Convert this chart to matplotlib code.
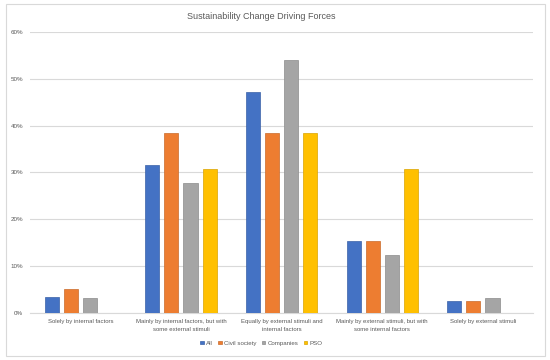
import matplotlib
matplotlib.use("Agg")
import matplotlib.pyplot as plt
import numpy as np
from matplotlib.patches import Rectangle
from matplotlib.ticker import PercentFormatter

categories = ["Solely by internal factors",
              "Mainly by internal factors, but with\nsome external stimuli",
              "Equally by external stimuli and\ninternal factors",
              "Mainly by external stimuli, but with\nsome internal factors",
              "Solely by external stimuli"]
series_names = ["All", "Civil society", "Companies", "PSO"]
all_vals = [3.5, 31.6, 47.1, 15.4, 2.5]
civil_vals = [5.1, 38.5, 38.5, 15.4, 2.5]
companies_vals = [3.1, 27.7, 54.0, 12.4, 3.1]
pso_vals = [0.0, 30.8, 38.5, 30.8, 0.0]
colors = ["#4472C4", "#ED7D31", "#A5A5A5", "#FFC000"]
yticks = [0, 10, 20, 30, 40, 50, 60]

plt.rcParams['font.family'] = ['Liberation Sans', 'DejaVu Sans']

fig = plt.figure(figsize=(5.5, 3.6), dpi=100)
ax = fig.add_axes([0.0545, 0.1306, 0.915, 0.7806])

x = np.arange(len(categories))
width = 0.14
pitch = 0.19
for i, (vals, name) in enumerate(zip([all_vals, civil_vals, companies_vals, pso_vals], series_names)):
    offs = (i - 1.5) * pitch
    ax.bar(x + offs, vals, width, color=colors[i], label=name, zorder=3,
           edgecolor=[c * 0.85 for c in matplotlib.colors.to_rgb(colors[i])], linewidth=0.5)

ax.set_xlim(-0.5, 4.5)
ax.set_ylim(0, 60)
ax.set_yticks(yticks)
ax.yaxis.set_major_formatter(PercentFormatter(decimals=0))
ax.grid(axis='y', color='#D9D9D9', linewidth=0.8, zorder=0)
for s in ['top', 'right', 'left']:
    ax.spines[s].set_visible(False)
ax.spines['bottom'].set_color('#D9D9D9')
ax.tick_params(axis='y', length=0, labelsize=4.5, labelcolor='#595959', pad=5)
ax.tick_params(axis='x', length=0, labelsize=4.3, labelcolor='#595959', pad=4.5)
ax.set_xticks(x)
ax.set_xticklabels(categories, linespacing=1.7)

fig.text(0.475, 0.955, "Sustainability Change Driving Forces", ha='center', va='center',
         fontsize=6.5, color='#595959')

leg = fig.legend(loc='center', bbox_to_anchor=(0.475, 0.047), ncol=4, frameon=False,
                 fontsize=4.4, handlelength=0.6, handleheight=0.6, handletextpad=0.3,
                 columnspacing=0.9, labelcolor='#595959')

fig.patches.append(Rectangle((0.01, 0.012), 0.98, 0.976, transform=fig.transFigure,
                             fill=False, edgecolor='#D9D9D9', linewidth=0.8))

fig.savefig("out.png", dpi=100)
